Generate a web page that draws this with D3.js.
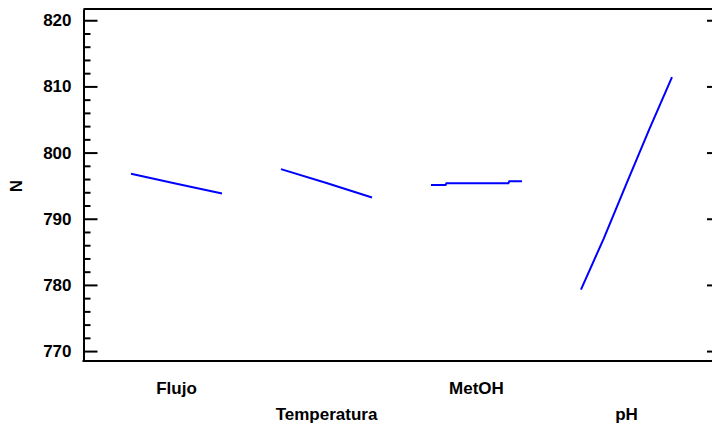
<!DOCTYPE html>
<html>
<head>
<meta charset="utf-8">
<script src="https://cdn.jsdelivr.net/npm/d3@7"></script>
<style>
  body { margin: 0; background: #fff; }
  svg { display: block; }
  text { font-family: "Liberation Sans", Arial, sans-serif; font-weight: bold; }
</style>
</head>
<body>
<script>
// factores y niveles codificados (-1 = bajo, +1 = alto)
var factors = ["Flujo", "Temperatura", "MetOH", "pH"];

var flujoLevels = [-1, 0, 1];
var flujoN = [796.8, 795.3, 793.8];

var tempLevels = [-1, 0, 1];
var tempN = [797.5, 795.4, 793.2];

var metohLevels = [-1, -0.68, -0.66, 0.70, 0.72, 1];
var metohN = [795.1, 795.1, 795.35, 795.35, 795.65, 795.65];

var phLevels = [-1, -0.5, 0, 0.5, 1];
var phN = [779.3, 787.0, 795.3, 803.5, 811.4];

var majorTicks = [770, 780, 790, 800, 810, 820];
var minorTicks = d3.range(770, 821, 2).filter(function(v) { return v % 10 !== 0; });

var series = [
  {factor: "Flujo", levels: flujoLevels, values: flujoN},
  {factor: "Temperatura", levels: tempLevels, values: tempN},
  {factor: "MetOH", levels: metohLevels, values: metohN},
  {factor: "pH", levels: phLevels, values: phN}
];

var W = 712, H = 428;
var plotLeft = 83.5, plotTop = 9, plotBottom = 361;

var svg = d3.select("body").append("svg")
    .attr("width", W)
    .attr("height", H);

var y = d3.scaleLinear().domain([768.5, 821.7]).range([plotBottom, plotTop]);
var x = d3.scaleBand().domain(factors).range([131, 672]).paddingInner(0.393);

// marco superior e inferior
svg.append("line")
    .attr("x1", plotLeft).attr("x2", W)
    .attr("y1", plotTop).attr("y2", plotTop)
    .attr("stroke", "#000").attr("stroke-width", 2);
svg.append("line")
    .attr("x1", plotLeft - 1).attr("x2", W)
    .attr("y1", plotBottom).attr("y2", plotBottom)
    .attr("stroke", "#000").attr("stroke-width", 2);

// eje izquierdo
var yAxis = svg.append("g")
    .attr("transform", "translate(" + plotLeft + ",0)")
    .call(d3.axisLeft(y).tickValues(majorTicks).tickSize(-14).tickPadding(12).tickSizeOuter(0));
yAxis.select(".domain").attr("stroke-width", 2);
yAxis.selectAll(".tick line").attr("stroke-width", 2);
yAxis.selectAll(".tick text")
    .attr("font-size", "17px")
    .attr("fill", "#000")
    .style("font-family", "'Liberation Sans', Arial, sans-serif")
    .style("font-weight", "bold");

var yMinor = svg.append("g")
    .attr("transform", "translate(" + plotLeft + ",0)")
    .call(d3.axisLeft(y).tickValues(minorTicks).tickSize(-7).tickFormat(""));
yMinor.select(".domain").remove();
yMinor.selectAll(".tick line").attr("stroke-width", 2);

// marcas derechas
var yRight = svg.append("g")
    .attr("transform", "translate(" + W + ",0)")
    .call(d3.axisRight(y).tickValues(majorTicks).tickSize(-5).tickFormat(""));
yRight.select(".domain").remove();
yRight.selectAll(".tick line").attr("stroke-width", 2);

// titulo eje Y
svg.append("text")
    .attr("transform", "translate(22,186) rotate(-90)")
    .attr("text-anchor", "middle")
    .attr("font-size", "17px")
    .text("N");

// lineas de efectos principales
var line = d3.line()
    .x(function(d) { return d.x; })
    .y(function(d) { return y(d.v); });

series.forEach(function(s) {
  var lx = d3.scaleLinear().domain([-1, 1])
      .range([x(s.factor), x(s.factor) + x.bandwidth()]);
  var pts = s.levels.map(function(l, i) { return {x: lx(l), v: s.values[i]}; });
  svg.append("path")
      .datum(pts)
      .attr("d", line)
      .attr("fill", "none")
      .attr("stroke", "#0000ff")
      .attr("stroke-width", 2);
});

// etiquetas de factores (alternadas en dos filas)
svg.selectAll(".factor")
    .data(factors)
    .enter().append("text")
    .attr("class", "factor")
    .attr("x", function(d) { return x(d) + x.bandwidth() / 2; })
    .attr("y", function(d, i) { return i % 2 === 0 ? 394 : 419.5; })
    .attr("text-anchor", "middle")
    .attr("font-size", "17px")
    .text(function(d) { return d; });
</script>
</body>
</html>
